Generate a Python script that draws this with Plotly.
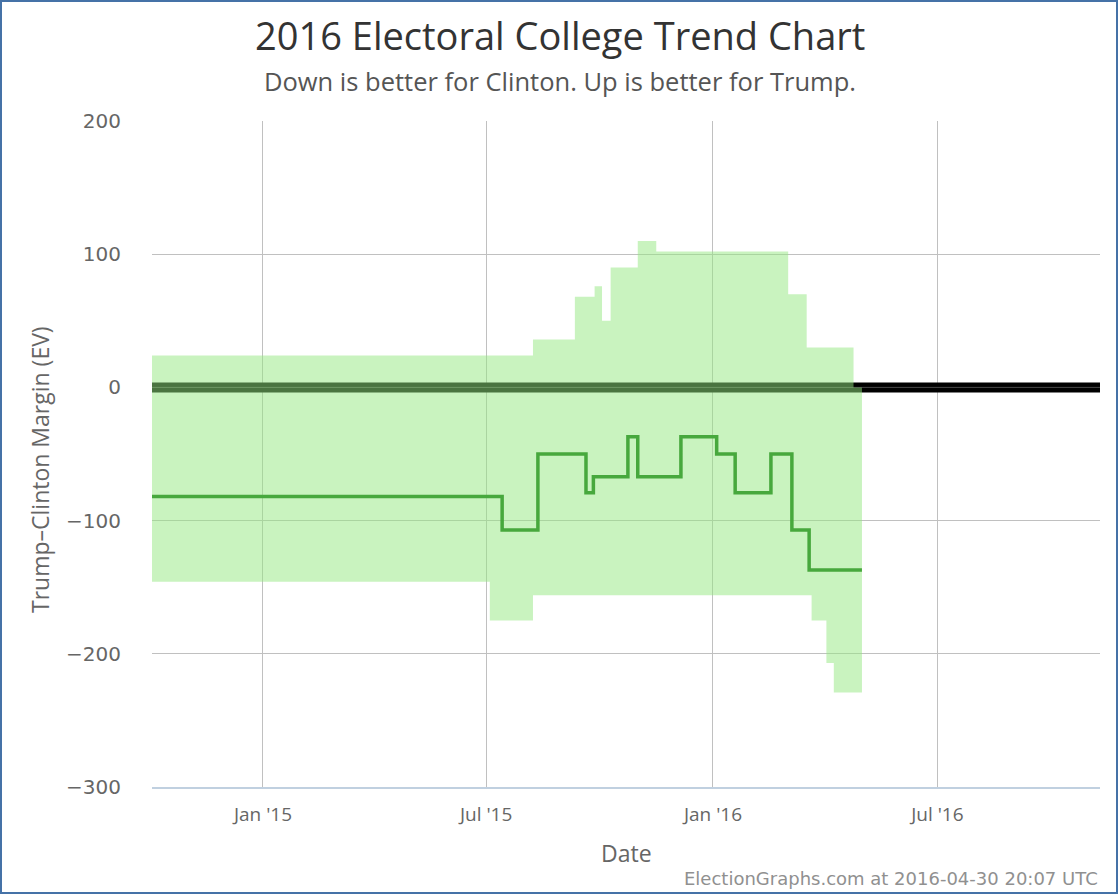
import plotly.graph_objects as go

# ---- data ----
x_start = "2014-10-03"
x_end = "2016-11-09 22:00"
now = "2016-04-30 20:07"

line_dates = ["2014-10-03", "2015-07-14", "2015-08-12", "2015-09-20", "2015-09-26",
              "2015-10-24", "2015-11-01", "2015-12-06", "2016-01-04", "2016-01-19",
              "2016-02-17", "2016-03-05", "2016-03-19", now]
line_vals = [-82, -107, -50, -79, -67, -37, -67, -37, -50, -79, -50, -107, -137, -137]

top_dates = ["2014-10-03", "2015-08-08", "2015-09-11", "2015-09-27", "2015-10-03",
             "2015-10-10", "2015-11-01", "2015-11-16", "2016-03-02", "2016-03-17",
             "2016-04-24", now]
top_vals = [24, 36, 68, 76, 50, 90, 110, 102, 70, 30, 0, 0]

bot_dates = ["2014-10-03", "2015-07-04", "2015-08-08", "2016-03-21", "2016-04-02",
             "2016-04-08", now]
bot_vals = [-146, -175, -156, -175, -207, -229, -229]

tick_dates = ["2015-01-01", "2015-07-01", "2016-01-01", "2016-07-01"]
tick_text = ["Jan '15", "Jul '15", "Jan '16", "Jul '16"]
y_ticks = [200, 100, 0, -100, -200, -300]
y_tick_text = ["200", "100", "0", "\u2212100", "\u2212200", "\u2212300"]

FONT = "Open Sans, sans-serif"
NUMFONT = "DejaVu Sans, sans-serif"

W, H = 1120, 896
L, R, T, B = 152, 20, 121, 109
PW, PH = W - L - R, H - T - B


def px(xp):
    return (xp - L) / PW


def py(yp):
    return (H - B - yp) / PH


fig = go.Figure()

# zero line
fig.add_trace(go.Scatter(x=[x_start, x_end], y=[0, 0], mode="lines",
                         line=dict(color="black", width=10), hoverinfo="skip",
                         showlegend=False))
fig.add_trace(go.Scatter(x=[x_start, x_end], y=[0, 0], mode="lines",
                         line=dict(color="rgba(90,90,90,0.8)", width=1), hoverinfo="skip",
                         showlegend=False))

# band
fig.add_trace(go.Scatter(x=top_dates, y=top_vals, mode="lines", line_shape="hv",
                         line=dict(width=0, color="rgba(0,0,0,0)"), showlegend=False))
fig.add_trace(go.Scatter(x=bot_dates, y=bot_vals, mode="lines", line_shape="hv",
                         line=dict(width=0, color="rgba(0,0,0,0)"), fill="tonexty",
                         fillcolor="rgba(148,232,128,0.5)", showlegend=False))

# main line
fig.add_trace(go.Scatter(x=line_dates, y=line_vals, mode="lines", line_shape="hv",
                         line=dict(color="#47a83d", width=3.5), showlegend=False))

fig.update_layout(
    width=W, height=H,
    margin=dict(l=L, r=R, t=T, b=B),
    paper_bgcolor="white", plot_bgcolor="white",
    xaxis=dict(range=[x_start, x_end], tickvals=tick_dates, ticktext=tick_text,
               showgrid=True, gridcolor="#c0c0c0", gridwidth=1,
               showline=True, linecolor="#c0d0e0", linewidth=2,
               ticks="", ticklabelstandoff=9,
               tickfont=dict(family=FONT, size=19, color="#666666"),
               zeroline=False),
    yaxis=dict(range=[-300, 200], tickvals=y_ticks, ticktext=y_tick_text,
               showgrid=True, gridcolor="#c0c0c0", gridwidth=1,
               zeroline=False, showline=False, ticks="",
               ticklabelstandoff=30,
               tickfont=dict(family=NUMFONT, size=20, color="#666666")),
    annotations=[
        dict(text="2016 Electoral College Trend Chart", x=px(560), y=py(35),
             xref="paper", yref="paper", showarrow=False, xanchor="center", yanchor="middle",
             font=dict(family=FONT, size=38, color="#333333")),
        dict(text="Down is better for Clinton. Up is better for Trump.", x=px(560), y=py(81),
             xref="paper", yref="paper", showarrow=False, xanchor="center", yanchor="middle",
             font=dict(family=FONT, size=25.5, color="#555555")),
        dict(text="Date", x=px(626), y=py(853),
             xref="paper", yref="paper", showarrow=False, xanchor="center", yanchor="middle",
             font=dict(family=FONT, size=23, color="#666666")),
        dict(text="Trump\u2013Clinton Margin (EV)", x=px(40), y=py(470), textangle=-90,
             xref="paper", yref="paper", showarrow=False, xanchor="center", yanchor="middle",
             font=dict(family=FONT, size=23, color="#666666")),
        dict(text="ElectionGraphs.com at 2016-04-30 20:07 UTC", x=px(1100), y=py(878),
             xref="paper", yref="paper", showarrow=False, xanchor="right", yanchor="middle",
             font=dict(family=NUMFONT, size=18, color="#909090")),
    ],
    shapes=[dict(type="rect", xref="paper", yref="paper",
                 x0=px(1), x1=px(1117), y0=py(893), y1=py(1),
                 line=dict(color="#4572a7", width=2), fillcolor="rgba(0,0,0,0)",
                 layer="above")],
)

fig.write_html("out.html")
